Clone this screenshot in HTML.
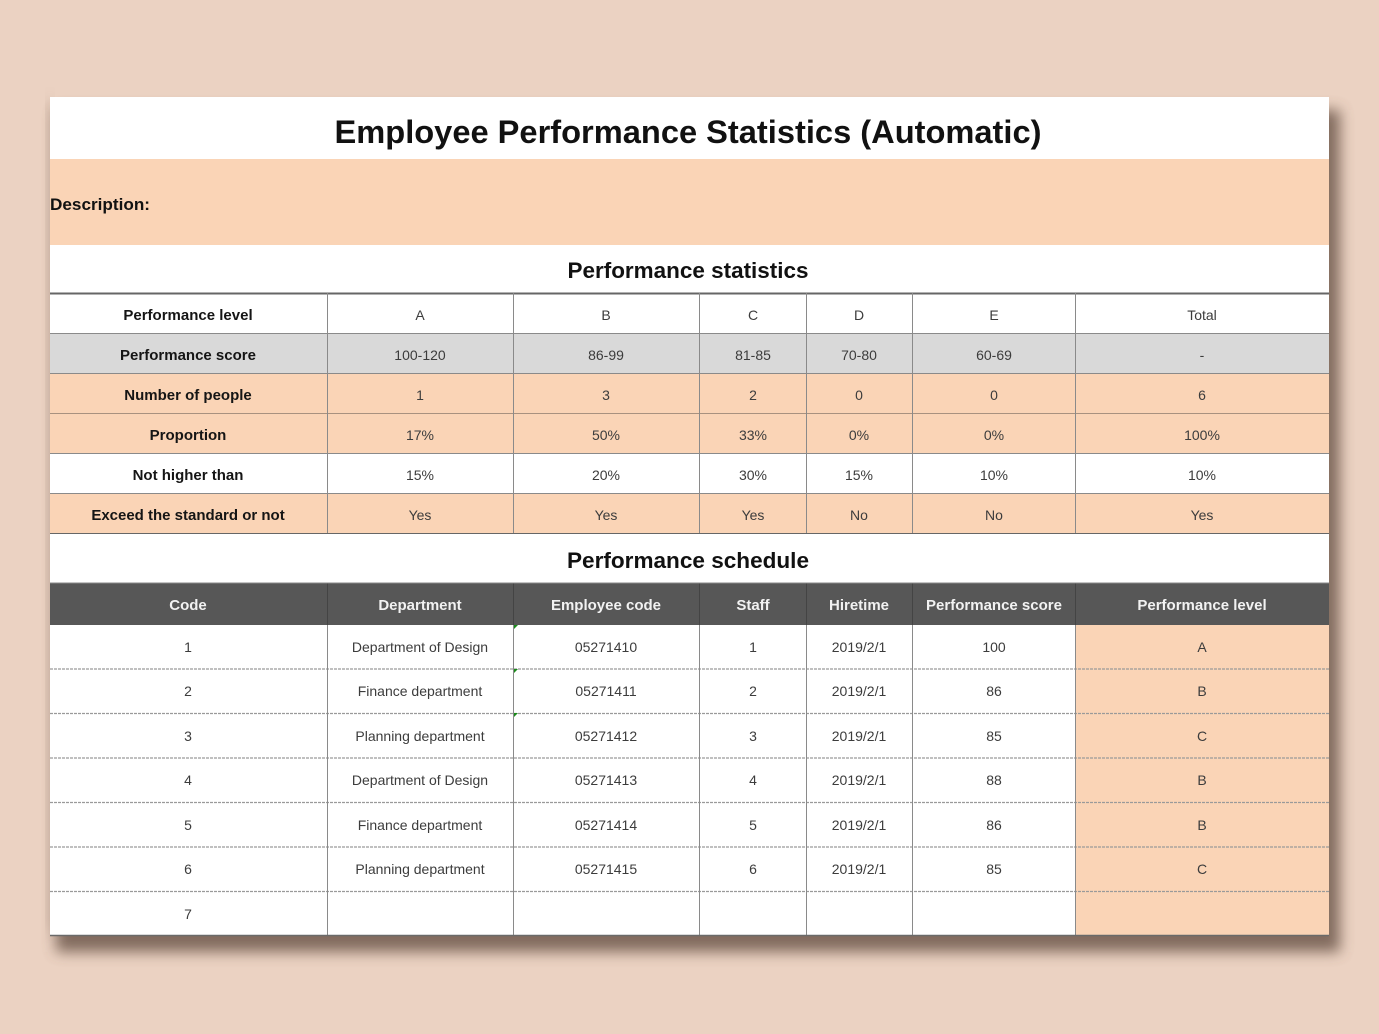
<!DOCTYPE html>
<html><head><meta charset="utf-8"><style>
html,body{margin:0;padding:0;background:#ebd2c2;}
svg{display:block;}
text{font-family:"Liberation Sans",Arial,sans-serif;}
.d{font-size:14px;fill:#3c3c3c;text-anchor:middle;}
.l{font-size:15px;font-weight:bold;fill:#151515;text-anchor:middle;}
.h{font-size:15px;font-weight:bold;fill:#f2f2f2;text-anchor:middle;}
</style></head><body>
<svg width="1379" height="1034" viewBox="0 0 1379 1034" xmlns="http://www.w3.org/2000/svg">
<defs>
<filter id="sh" x="-10%" y="-10%" width="120%" height="130%">
<feGaussianBlur stdDeviation="7"/>
</filter>
</defs>
<rect width="1379" height="1034" fill="#ebd2c2"/>
<!-- shadow -->
<rect x="56" y="110" width="1284" height="842" fill="#5e4a3e" opacity="0.75" filter="url(#sh)"/>
<rect x="46" y="100" width="8" height="830" fill="#a08878" opacity="0.35" filter="url(#sh)"/>
<!-- sheet -->
<rect x="50" y="97" width="1279" height="839" fill="#ffffff"/>
<!-- description band -->
<rect x="50" y="159" width="1279" height="86" fill="#fad4b6"/>
<text x="50" y="210" font-size="17" font-weight="bold" fill="#111" textLength="100" lengthAdjust="spacingAndGlyphs">Description:</text>
<!-- title -->
<text x="688" y="143" font-size="32.5" font-weight="bold" fill="#111" text-anchor="middle" textLength="707" lengthAdjust="spacingAndGlyphs">Employee Performance Statistics (Automatic)</text>
<text x="688" y="278" font-size="22.5" font-weight="bold" fill="#111" text-anchor="middle" textLength="241" lengthAdjust="spacingAndGlyphs">Performance statistics</text>
<text x="688" y="568" font-size="22.5" font-weight="bold" fill="#111" text-anchor="middle" textLength="242" lengthAdjust="spacingAndGlyphs">Performance schedule</text>

<!-- stats table backgrounds -->
<rect x="50" y="333" width="1279" height="40" fill="#d9d9d9"/>
<rect x="50" y="373" width="1279" height="80" fill="#fad4b6"/>
<rect x="50" y="493" width="1279" height="40" fill="#fad4b6"/>
<!-- stats grid -->
<g stroke="#8a8a8a" stroke-width="1">
<line x1="50" y1="293.5" x2="1329" y2="293.5" stroke="#666" stroke-width="2"/>
<line x1="50" y1="333.5" x2="1329" y2="333.5"/>
<line x1="50" y1="373.5" x2="1329" y2="373.5"/>
<line x1="50" y1="413.5" x2="1329" y2="413.5" stroke="#a8917f"/>
<line x1="50" y1="453.5" x2="1329" y2="453.5"/>
<line x1="50" y1="493.5" x2="1329" y2="493.5"/>
<line x1="50" y1="533.5" x2="1329" y2="533.5" stroke="#666"/>
<line x1="327.5" y1="293" x2="327.5" y2="533"/>
<line x1="513.5" y1="293" x2="513.5" y2="533"/>
<line x1="699.5" y1="293" x2="699.5" y2="533"/>
<line x1="806.5" y1="293" x2="806.5" y2="533"/>
<line x1="912.5" y1="293" x2="912.5" y2="533"/>
<line x1="1075.5" y1="293" x2="1075.5" y2="533"/>
</g>
<!-- stats text -->
<g class="l">
<text x="188" y="320">Performance level</text>
<text x="188" y="360">Performance score</text>
<text x="188" y="400">Number of people</text>
<text x="188" y="440">Proportion</text>
<text x="188" y="480">Not higher than</text>
<text x="188" y="520">Exceed the standard or not</text>
</g>
<g class="d">
<text x="420" y="320">A</text><text x="606" y="320">B</text><text x="753" y="320">C</text><text x="859" y="320">D</text><text x="994" y="320">E</text><text x="1202" y="320">Total</text>
<text x="420" y="360">100-120</text><text x="606" y="360">86-99</text><text x="753" y="360">81-85</text><text x="859" y="360">70-80</text><text x="994" y="360">60-69</text><text x="1202" y="360">-</text>
<text x="420" y="400">1</text><text x="606" y="400">3</text><text x="753" y="400">2</text><text x="859" y="400">0</text><text x="994" y="400">0</text><text x="1202" y="400">6</text>
<text x="420" y="440">17%</text><text x="606" y="440">50%</text><text x="753" y="440">33%</text><text x="859" y="440">0%</text><text x="994" y="440">0%</text><text x="1202" y="440">100%</text>
<text x="420" y="480">15%</text><text x="606" y="480">20%</text><text x="753" y="480">30%</text><text x="859" y="480">15%</text><text x="994" y="480">10%</text><text x="1202" y="480">10%</text>
<text x="420" y="520">Yes</text><text x="606" y="520">Yes</text><text x="753" y="520">Yes</text><text x="859" y="520">No</text><text x="994" y="520">No</text><text x="1202" y="520">Yes</text>
</g>

<!-- schedule header -->
<rect x="50" y="583" width="1279" height="42" fill="#575757"/>
<rect x="1075" y="625" width="254" height="311" fill="#fad4b6"/>
<g stroke="#444" stroke-width="1">
<line x1="327.5" y1="583" x2="327.5" y2="625"/>
<line x1="513.5" y1="583" x2="513.5" y2="625"/>
<line x1="699.5" y1="583" x2="699.5" y2="625"/>
<line x1="806.5" y1="583" x2="806.5" y2="625"/>
<line x1="912.5" y1="583" x2="912.5" y2="625"/>
<line x1="1075.5" y1="583" x2="1075.5" y2="625"/>
</g>
<line x1="50" y1="583" x2="1329" y2="583" stroke="#888" stroke-width="1"/>
<g class="h">
<text x="188" y="610">Code</text>
<text x="420" y="610">Department</text>
<text x="606" y="610">Employee code</text>
<text x="753" y="610">Staff</text>
<text x="859" y="610">Hiretime</text>
<text x="994" y="610">Performance score</text>
<text x="1202" y="610">Performance level</text>
</g>
<!-- schedule grid -->
<g stroke="#9a9a9a" stroke-width="1.2" stroke-dasharray="3,1">
<line x1="50" y1="669" x2="1329" y2="669"/>
<line x1="50" y1="713.5" x2="1329" y2="713.5"/>
<line x1="50" y1="758" x2="1329" y2="758"/>
<line x1="50" y1="802.5" x2="1329" y2="802.5"/>
<line x1="50" y1="847" x2="1329" y2="847"/>
<line x1="50" y1="891.5" x2="1329" y2="891.5"/>
</g>
<g stroke="#8a8a8a" stroke-width="1">
<line x1="327.5" y1="625" x2="327.5" y2="936"/>
<line x1="513.5" y1="625" x2="513.5" y2="936"/>
<line x1="699.5" y1="625" x2="699.5" y2="936"/>
<line x1="806.5" y1="625" x2="806.5" y2="936"/>
<line x1="912.5" y1="625" x2="912.5" y2="936"/>
<line x1="1075.5" y1="625" x2="1075.5" y2="936"/>
</g>
<line x1="50" y1="935.5" x2="1329" y2="935.5" stroke="#6a6a6a" stroke-width="1.5"/>
<g fill="#1a8a1a">
<polygon points="514,625 518,625 514,629"/>
<polygon points="514,669 518,669 514,673"/>
<polygon points="514,713 518,713 514,717"/>
</g>
<g class="d">
<text x="188" y="652">1</text><text x="420" y="652">Department of Design</text><text x="606" y="652">05271410</text><text x="753" y="652">1</text><text x="859" y="652">2019/2/1</text><text x="994" y="652">100</text><text x="1202" y="652">A</text>
<text x="188" y="696">2</text><text x="420" y="696">Finance department</text><text x="606" y="696">05271411</text><text x="753" y="696">2</text><text x="859" y="696">2019/2/1</text><text x="994" y="696">86</text><text x="1202" y="696">B</text>
<text x="188" y="741">3</text><text x="420" y="741">Planning department</text><text x="606" y="741">05271412</text><text x="753" y="741">3</text><text x="859" y="741">2019/2/1</text><text x="994" y="741">85</text><text x="1202" y="741">C</text>
<text x="188" y="785">4</text><text x="420" y="785">Department of Design</text><text x="606" y="785">05271413</text><text x="753" y="785">4</text><text x="859" y="785">2019/2/1</text><text x="994" y="785">88</text><text x="1202" y="785">B</text>
<text x="188" y="830">5</text><text x="420" y="830">Finance department</text><text x="606" y="830">05271414</text><text x="753" y="830">5</text><text x="859" y="830">2019/2/1</text><text x="994" y="830">86</text><text x="1202" y="830">B</text>
<text x="188" y="874">6</text><text x="420" y="874">Planning department</text><text x="606" y="874">05271415</text><text x="753" y="874">6</text><text x="859" y="874">2019/2/1</text><text x="994" y="874">85</text><text x="1202" y="874">C</text>
<text x="188" y="919">7</text>
</g>
</svg>
</body></html>
